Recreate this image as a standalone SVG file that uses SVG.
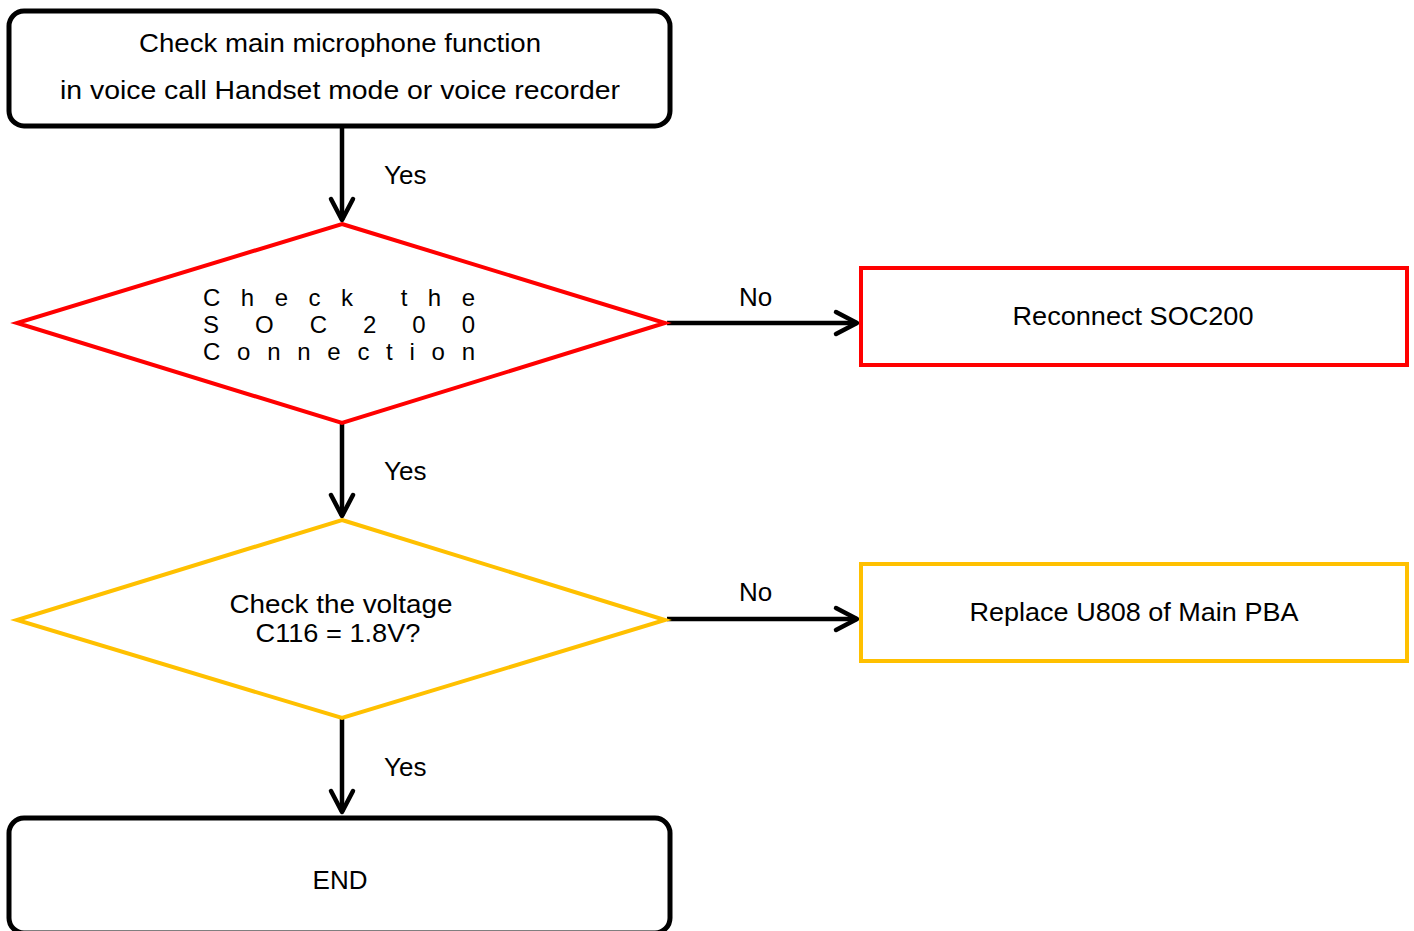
<svg xmlns="http://www.w3.org/2000/svg" width="1414" height="931" viewBox="0 0 1414 931" xml:space="preserve">
<style>
text{font-family:"Liberation Sans",Arial,sans-serif;font-size:26px;fill:#000;}
.c{text-anchor:middle;}
.sp{font-size:24px;}
.term{fill:#fff;stroke:#000;stroke-width:5;}
.red{fill:#fff;stroke:#ff0000;stroke-width:4;}
.yel{fill:#fff;stroke:#ffc000;stroke-width:4;}
.conn{stroke:#000;stroke-width:4.5;fill:none;}
</style>
<defs>
<marker id="arr" markerUnits="userSpaceOnUse" viewBox="-26 -16 30 32" markerWidth="30" markerHeight="32" refX="0" refY="0" orient="auto" overflow="visible">
<path d="M-21,-11 L0,0 L-21,11" fill="none" stroke="#000" stroke-width="4.5" stroke-linecap="round" stroke-linejoin="round"/>
</marker>
</defs>
<rect width="1414" height="931" fill="#fff"/>
<g id="connectors">
<line class="conn" x1="342" y1="126" x2="342" y2="220" marker-end="url(#arr)"/>
<text x="384" y="184">Yes</text>
<line class="conn" x1="342" y1="423" x2="342" y2="516" marker-end="url(#arr)"/>
<text x="384" y="480">Yes</text>
<line class="conn" x1="342" y1="718" x2="342" y2="812" marker-end="url(#arr)"/>
<text x="384" y="776">Yes</text>
<line class="conn" x1="667" y1="323" x2="857" y2="323" marker-end="url(#arr)"/>
<text x="739" y="306">No</text>
<line class="conn" x1="667" y1="619" x2="857" y2="619" marker-end="url(#arr)"/>
<text x="739" y="601">No</text>
</g>
<g id="start">
<rect class="term" x="9" y="11" width="661" height="115" rx="15"/>
<text class="c" x="340" y="52" textLength="402" lengthAdjust="spacingAndGlyphs">Check  main  microphone  function</text>
<text class="c" x="340" y="99" textLength="560" lengthAdjust="spacingAndGlyphs">in  voice  call  Handset  mode  or  voice  recorder</text>
</g>
<g id="check-soc">
<polygon class="red" points="342,224 665,323 342,423 17,323"/>
<text class="sp" x="203" y="306" textLength="272" lengthAdjust="spacing">Check the</text>
<text class="sp" x="203" y="333" textLength="272" lengthAdjust="spacing">SOC200</text>
<text class="sp" x="203" y="360" textLength="272" lengthAdjust="spacing">Connection</text>
</g>
<g id="reconnect">
<rect class="red" x="861" y="268" width="546" height="97"/>
<text class="c" x="1133" y="325" textLength="241" lengthAdjust="spacingAndGlyphs">Reconnect  SOC200</text>
</g>
<g id="check-voltage">
<polygon class="yel" points="342,520 665,620 342,718 17,620"/>
<text class="c" x="341" y="613" textLength="223" lengthAdjust="spacingAndGlyphs">Check  the  voltage</text>
<text class="c" x="338" y="642" textLength="165" lengthAdjust="spacingAndGlyphs">C116 =  1.8V?</text>
</g>
<g id="replace">
<rect class="yel" x="861" y="564" width="546" height="97"/>
<text class="c" x="1134" y="621" textLength="329" lengthAdjust="spacingAndGlyphs">Replace  U808 of Main PBA</text>
</g>
<g id="end">
<rect class="term" x="9" y="818" width="661" height="115" rx="15"/>
<text class="c" x="340" y="889">END</text>
</g>
</svg>
